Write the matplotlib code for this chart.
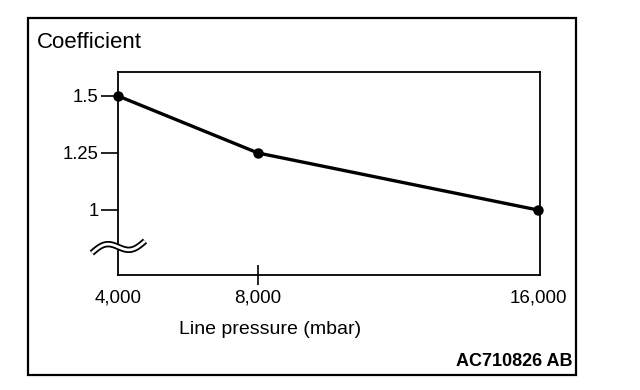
import numpy as np
import matplotlib
matplotlib.use("Agg")
import matplotlib.pyplot as plt
from matplotlib.patches import Rectangle

# data
pressure = [4000, 8000, 16000]          # mbar
coefficient = [1.5, 1.25, 1.0]
x_ticks = [4000, 8000, 16000]
x_labels = ["4,000", "8,000", "16,000"]
y_ticks = [1.0, 1.25, 1.5]
y_labels = ["1", "1.25", "1.5"]

plt.rcParams["font.family"] = ["Liberation Sans", "DejaVu Sans"]

fig = plt.figure(figsize=(6.4, 3.9), dpi=100)
ax = fig.add_axes([118 / 640, 115 / 390, 422 / 640, 203 / 390])

ax.plot(pressure, coefficient, color="black", lw=2.4, marker="o",
        markersize=6.5, clip_on=False, zorder=5)

ax.set_xlim(4000, 16060)
ax.set_ylim(0.715, 1.605)

ax.set_xticks(x_ticks)
ax.set_xticklabels(x_labels, fontsize=13.5)
ax.set_yticks(y_ticks)
ax.set_yticklabels(y_labels, fontsize=13.3)

ax.tick_params(axis="x", direction="inout", length=14.4, width=1.2, pad=3)
ax.tick_params(axis="y", direction="out", length=12, width=1.2, pad=2)
# only the 8,000 tick is drawn on the x axis
for i in (0, 2):
    t = ax.xaxis.get_major_ticks()[i]
    t.tick1line.set_visible(False)

for s in ax.spines.values():
    s.set_linewidth(1.3)

ax.set_xlabel("Line pressure (mbar)", fontsize=14)
ax.xaxis.set_label_coords(0.36, -0.225)

# axis break symbol on the y axis
t = np.linspace(0, 1, 100)
wx = -0.062 + 0.126 * t
wy = (275 - (253 - 12 * t - 5.5 * np.sin(2 * np.pi * t))) / 203
ax.plot(wx, wy, color="black", lw=4.6, transform=ax.transAxes,
        clip_on=False, zorder=6, solid_capstyle="butt")
ax.plot(wx, wy, color="white", lw=2.0, transform=ax.transAxes,
        clip_on=False, zorder=7, solid_capstyle="butt")

fig.text(37 / 640, 1 - 42 / 390, "Coefficient", fontsize=16, va="center", ha="left")
fig.text(572 / 640, 1 - 362 / 390, "AC710826 AB", fontsize=13,
         fontweight="bold", va="center", ha="right")

frame = Rectangle((28 / 640, 15 / 390), 548 / 640, 357 / 390,
                  transform=fig.transFigure, fill=False, lw=1.6,
                  edgecolor="black")
fig.patches.append(frame)

fig.savefig("out.png", dpi=100)
